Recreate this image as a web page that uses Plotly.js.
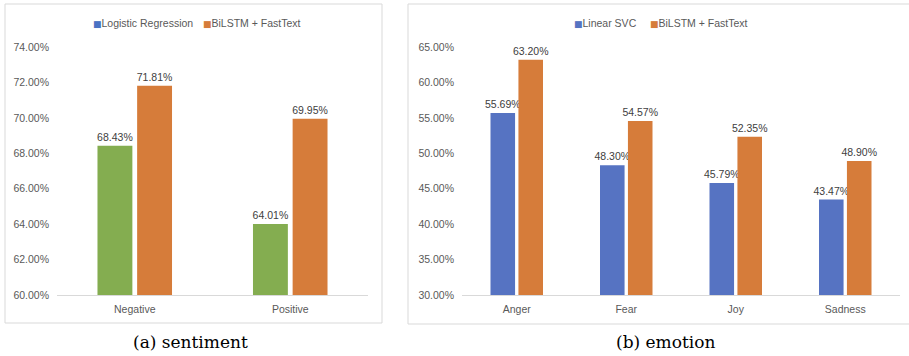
<!DOCTYPE html>
<html>
<head>
<meta charset="utf-8">
<script src="https://cdn.plot.ly/plotly-3.0.1.min.js"></script>
<style>
html,body{margin:0;padding:0;background:#fff;}
#chart{width:909px;height:356px;}
</style>
</head>
<body>
<div id="chart"></div>
<script>
// Sentiment panel data
const sentCategories = ['Negative', 'Positive'];
const sentLogReg = [68.43, 64.01];
const sentBiLSTM = [71.81, 69.95];
// Emotion panel data
const emoCategories = ['Anger', 'Fear', 'Joy', 'Sadness'];
const emoLinearSVC = [55.69, 48.30, 45.79, 43.47];
const emoBiLSTM = [63.20, 54.57, 52.35, 48.90];
// Names / captions
const sentSeriesNames = ['Logistic Regression', 'BiLSTM + FastText'];
const emoSeriesNames = ['Linear SVC', 'BiLSTM + FastText'];
const captions = ['(a) sentiment', '(b) emotion'];

const W = 909, H = 356;
const px = x => x / W;
const py = y => 1 - y / H;

const GREEN = '#84ad50', ORANGE = '#d67c3a', BLUE = '#5673c2', LEGBLUE = '#4a72c4';
const txtFont = {family: 'Liberation Sans, Arial, sans-serif', size: 10.5, color: '#404040'};
const tickFont = {family: 'Liberation Sans, Arial, sans-serif', size: 10.5, color: '#595959'};

function barTrace(x, y, name, color, ax) {
  return {type: 'bar', x: x, y: y, name: name, xaxis: 'x' + ax, yaxis: 'y' + ax,
    marker: {color: color}, texttemplate: '%{y:.2f}%', textposition: 'outside',
    constraintext: 'none', textfont: txtFont, cliponaxis: false, showlegend: false};
}
function legendEntry(name, color, ax, leg, lw) {
  return {type: 'scatter', mode: 'markers', x: [null], y: [null], xaxis: 'x' + ax, yaxis: 'y' + ax,
    name: '<span style="color:' + color + ';font-family:DejaVu Sans;font-size:9px">\u25A0</span>' + name,
    marker: {size: 1, opacity: 0, color: 'rgba(0,0,0,0)'}, legend: leg, legendwidth: lw,
    showlegend: true, hoverinfo: 'skip'};
}

const traces = [
  barTrace(sentCategories, sentLogReg, sentSeriesNames[0], GREEN, ''),
  barTrace(sentCategories, sentBiLSTM, sentSeriesNames[1], ORANGE, ''),
  legendEntry(sentSeriesNames[0], LEGBLUE, '', 'legend', 65),
  legendEntry(sentSeriesNames[1], ORANGE, '', 'legend', 110),
  barTrace(emoCategories, emoLinearSVC, emoSeriesNames[0], BLUE, '2'),
  barTrace(emoCategories, emoBiLSTM, emoSeriesNames[1], ORANGE, '2'),
  legendEntry(emoSeriesNames[0], BLUE, '2', 'legend2', 31),
  legendEntry(emoSeriesNames[1], ORANGE, '2', 'legend2', 110)
];

const layout = {
  width: W, height: H,
  margin: {l: 0, r: 0, t: 0, b: 0},
  paper_bgcolor: '#fff', plot_bgcolor: '#fff',
  barmode: 'group', bargap: 0.49, bargroupgap: 0.12,
  font: tickFont,
  xaxis: {domain: [px(57), px(368)], anchor: 'y', showline: true, linecolor: '#d9d9d9', linewidth: 1,
          showgrid: false, zeroline: false, ticks: '', ticklabelstandoff: 4, tickfont: tickFont, fixedrange: true},
  yaxis: {domain: [py(295), py(47)], anchor: 'x', range: [60, 74], dtick: 2, tick0: 60,
          tickformat: '.2f', ticksuffix: '%', showgrid: false, zeroline: false, showline: false,
          ticks: '', ticklabelstandoff: 7, tickfont: tickFont, fixedrange: true},
  xaxis2: {domain: [px(462), px(900)], anchor: 'y2', showline: true, linecolor: '#d9d9d9', linewidth: 1,
           showgrid: false, zeroline: false, ticks: '', ticklabelstandoff: 4, tickfont: tickFont, fixedrange: true},
  yaxis2: {domain: [py(295), py(47)], anchor: 'x2', range: [30, 65], dtick: 5, tick0: 30,
           tickformat: '.2f', ticksuffix: '%', showgrid: false, zeroline: false, showline: false,
           ticks: '', ticklabelstandoff: 7, tickfont: tickFont, fixedrange: true},
  legend: {orientation: 'h', x: px(53), xanchor: 'left', y: py(23), yanchor: 'middle',
           font: tickFont, itemwidth: 30, tracegroupgap: 0, bgcolor: 'rgba(0,0,0,0)'},
  legend2: {orientation: 'h', x: px(534), xanchor: 'left', y: py(23), yanchor: 'middle',
            font: tickFont, itemwidth: 30, tracegroupgap: 0, bgcolor: 'rgba(0,0,0,0)'},
  shapes: [
    {type: 'rect', xref: 'paper', yref: 'paper', x0: px(5), x1: px(382), y0: py(323), y1: py(4),
     line: {color: '#d9d9d9', width: 1}},
    {type: 'rect', xref: 'paper', yref: 'paper', x0: px(408), x1: px(912), y0: py(324), y1: py(4),
     line: {color: '#d9d9d9', width: 1}}
  ],
  annotations: [
    {text: captions[0], xref: 'paper', yref: 'paper', x: px(190), y: py(342), xanchor: 'center', yanchor: 'middle',
     showarrow: false, font: {family: 'DejaVu Serif, serif', size: 17, color: '#000'}},
    {text: captions[1], xref: 'paper', yref: 'paper', x: px(665), y: py(342), xanchor: 'center', yanchor: 'middle',
     showarrow: false, font: {family: 'DejaVu Serif, serif', size: 17, color: '#000'}}
  ]
};

Plotly.newPlot('chart', traces, layout, {displayModeBar: false, staticPlot: true});
</script>
</body>
</html>
